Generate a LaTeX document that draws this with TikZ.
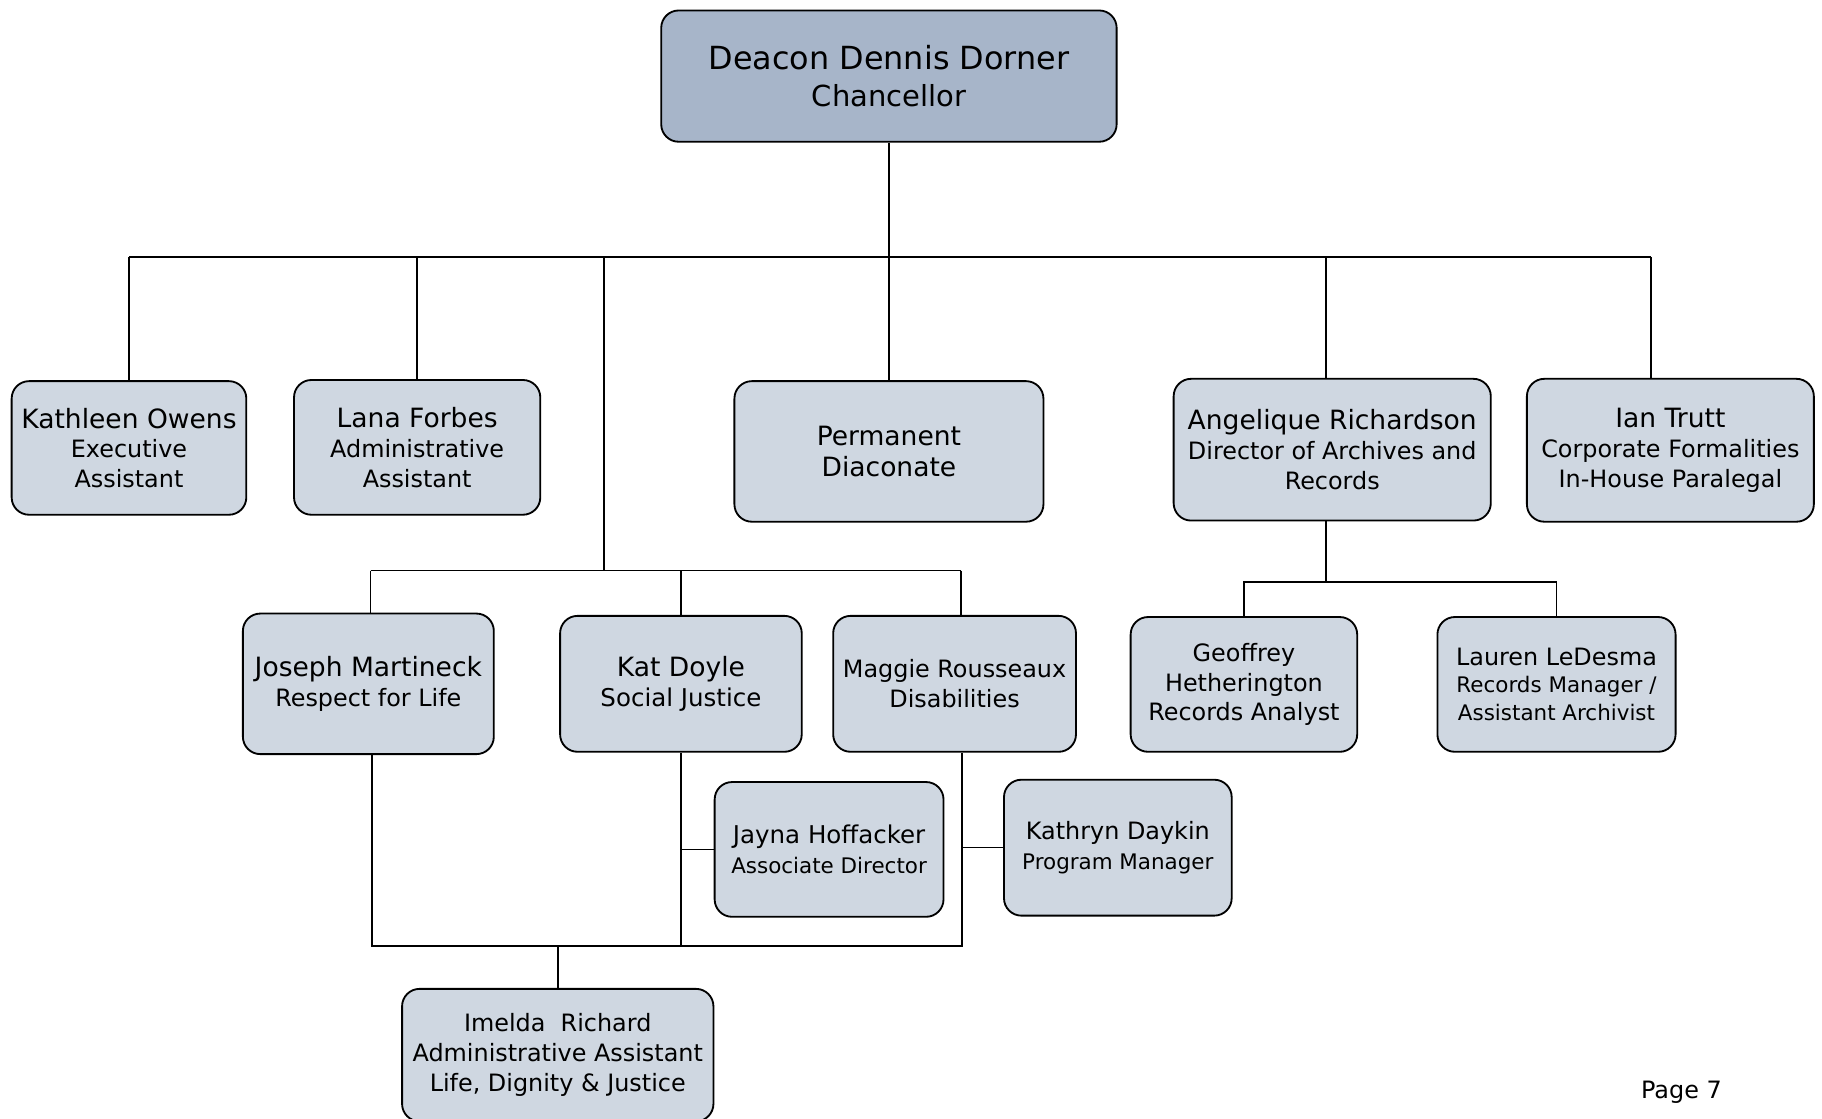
\documentclass[tikz,border=0pt]{standalone}
\usepackage{fontspec}
\setmainfont{DejaVu Sans}
\definecolor{topfill}{HTML}{A7B5C9}
\definecolor{boxfill}{HTML}{CFD7E1}
\newcommand\bigname{\fontsize{13}{15}\selectfont}
\newcommand\smallrole{\fontsize{10.5}{13.5}\selectfont}

\begin{document}
\begin{tikzpicture}[x=0.02cm, y=-0.02cm,
    box/.style={draw, line width=0.9pt, rounded corners=0.3cm, fill=boxfill, align=center, inner sep=0pt, font=\fontsize{11.7}{14.6}\selectfont},
    wire/.style={line width=0.75pt}]
    \useasboundingbox (0,0) rectangle (1568,963);

    \node[box, fill=topfill, minimum width=7.84cm, minimum height=2.26cm, font=\fontsize{14.2}{18.2}\selectfont] at (765,65.5)(chan){{\fontsize{15.6}{18.2}\selectfont Deacon Dennis Dorner}\\Chancellor};

    \node[box, minimum width=4.04cm, minimum height=2.3cm] at (111,385.5)(kath){{\bigname Kathleen Owens}\\Executive\\Assistant};
    \node[box, minimum width=4.24cm, minimum height=2.32cm] at (359,385)(lana){{\bigname Lana Forbes}\\Administrative\\Assistant};
    \node[box, minimum width=5.32cm, minimum height=2.42cm, font=\fontsize{13}{15.4}\selectfont] at (765,388.5)(diac){Permanent\\Diaconate};
    \node[box, minimum width=5.46cm, minimum height=2.44cm] at (1146.5,387)(angel){{\bigname Angelique Richardson}\\Director of Archives and\\Records};
    \node[box, minimum width=4.94cm, minimum height=2.46cm] at (1437.5,387.5)(ian){{\bigname Ian Trutt}\\Corporate Formalities\\In-House Paralegal};

    \node[box, minimum width=4.32cm, minimum height=2.42cm] at (317,588.5)(jos){{\bigname Joseph Martineck}\\Respect for Life};
    \node[box, minimum width=4.16cm, minimum height=2.34cm] at (586,588.5)(kat){{\bigname Kat Doyle}\\{\fontsize{12}{14.6}\selectfont Social Justice}};
    \node[box, minimum width=4.18cm, minimum height=2.34cm] at (821.5,588.5)(mag){Maggie Rousseaux\\Disabilities};
    \node[box, minimum width=3.9cm, minimum height=2.32cm] at (1070.5,589)(geo){Geoffrey\\Hetherington\\Records Analyst};
    \node[box, minimum width=4.1cm, minimum height=2.32cm, font=\fontsize{11.7}{13.6}\selectfont] at (1339.5,589)(lau){Lauren LeDesma\\{\smallrole Records Manager /}\\{\smallrole Assistant Archivist}};

    \node[box, minimum width=3.94cm, minimum height=2.32cm] at (713.5,731)(jay){{\fontsize{12}{14.2}\selectfont Jayna Hoffacker}\\{\smallrole Associate Director}};
    \node[box, minimum width=3.92cm, minimum height=2.34cm] at (962,729.5)(kryn){Kathryn Daykin\\{\smallrole Program Manager}};
    \node[box, minimum width=5.36cm, minimum height=2.28cm] at (480,908)(imel){Imelda\ \ Richard\\Administrative Assistant\\Life, Dignity \& Justice};

    \node[font=\fontsize{11.7}{14}\selectfont] at (1447,940)(page){Page 7};

    \coordinate (top) at (765,221);
    \coordinate (jC) at (520,221);
    \coordinate (jA) at (1141,221);
    \coordinate (jI) at (1421,221);
    \coordinate (jJ) at (319,491);
    \coordinate (jM) at (827,491);
    \coordinate (jR) at (1141,501);
    \coordinate (jL) at (320,814);
    \coordinate (jB) at (828,814);

    \draw[wire]
        (chan.south) -- (top)
        (kath.north |- top) -- (jI)
        (kath.north) -- (kath.north |- top)
        (lana.north) -- (lana.north |- top)
        (diac.north) -- (top)
        (jA) -- (jA |- angel.north)
        (jI) -- (jI |- ian.north)
        (jC) -- (jC |- jJ)
        (jJ) -- (jM)
        (jJ) -- (jJ |- jos.north)
        (kat.north) -- (kat.north |- jJ)
        (jM) -- (jM |- mag.north)
        (jA |- angel.south) -- (jR)
        (geo.north) -- (geo.north |- jR) -- (lau.north |- jR) -- (lau.north)
        (jL |- jos.south) -- (jL) -- (jB) -- (jB |- mag.south)
        (kat.south) -- (kat.south |- jL)
        (imel.north) -- (imel.north |- jL)
        (kat.south |- jay.west) -- (jay.west)
        (jB |- kryn.west) -- (kryn.west)
        ;
\end{tikzpicture}
\end{document}
